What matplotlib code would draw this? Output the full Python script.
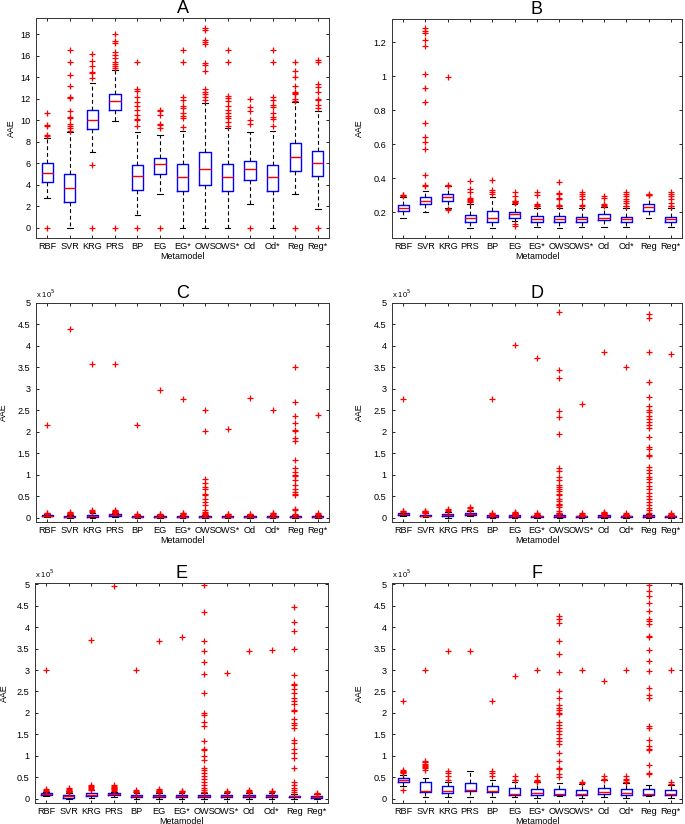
import matplotlib
matplotlib.use("Agg")
import matplotlib.pyplot as plt
from matplotlib.ticker import FuncFormatter, MultipleLocator

plt.rcParams['font.family'] = ['Liberation Sans', 'DejaVu Sans']

categories = ['RBF', 'SVR', 'KRG', 'PRS', 'BP', 'EG', 'EG*', 'OWS', 'OWS*', 'Od', 'Od*', 'Reg', 'Reg*']

# ---------------- Panel A ----------------
A_q1 = [4.3, 2.4, 9.2, 11.0, 3.5, 5.05, 3.45, 3.95, 3.45, 4.45, 3.45, 5.3, 4.8]
A_med = [5.15, 3.7, 10.05, 11.8, 4.8, 5.95, 4.75, 5.45, 4.75, 5.5, 4.75, 6.6, 6.05]
A_q3 = [6.0, 5.05, 11.0, 12.45, 5.85, 6.5, 5.9, 7.05, 5.9, 6.25, 5.85, 7.85, 7.15]
A_wlo = [2.8, 0.0, 7.1, 9.9, 1.25, 3.2, 0.0, 0.0, 0.0, 2.2, 0.0, 3.2, 1.8]
A_whi = [8.4, 8.9, 13.5, 14.7, 8.9, 8.6, 9.0, 11.6, 9.25, 8.95, 9.0, 11.7, 10.85]
A_fliers = [
    [10.7, 9.6, 9.45, 8.6, 8.5, 0.0],
    [16.55, 15.4, 14.2, 13.2, 12.2, 12.1, 10.9, 10.3, 10.2, 9.7, 9.5, 9.25, 9.05],
    [16.2, 15.5, 15.0, 14.5, 14.4, 13.9, 5.85, 0.0],
    [18.0, 17.4, 17.2, 16.3, 16.1, 15.8, 15.45, 15.2, 15.05, 14.9, 0.0],
    [15.4, 12.9, 12.75, 12.2, 11.7, 11.3, 10.95, 10.5, 10.1, 10.0, 9.45, 0.0],
    [11.0, 10.85, 10.5, 9.7, 9.55, 9.3, 0.0],
    [16.55, 15.4, 12.2, 11.9, 11.3, 11.1, 10.65, 10.4, 10.2, 9.4],
    [18.55, 18.4, 17.5, 17.25, 17.1, 15.3, 15.15, 14.6, 12.9, 12.65, 12.45, 12.2, 11.9],
    [16.55, 15.4, 12.25, 12.05, 11.75, 11.3, 11.0, 10.65, 10.4, 10.2, 9.8, 9.45],
    [11.95, 11.2, 10.85, 10.0, 9.7, 0.0],
    [16.55, 15.4, 12.2, 11.9, 11.4, 11.2, 10.65, 10.35, 10.1, 9.45],
    [15.4, 14.6, 14.05, 13.2, 12.65, 12.55, 12.4, 11.95, 11.75, 0.0],
    [15.6, 15.4, 13.35, 13.1, 12.6, 12.0, 11.9, 11.4, 11.1, 0.0],
]

# ---------------- Panel B ----------------
B_q1 = [0.21, 0.249, 0.269, 0.141, 0.141, 0.17, 0.145, 0.145, 0.141, 0.155, 0.141, 0.21, 0.141]
B_med = [0.226, 0.269, 0.288, 0.165, 0.167, 0.19, 0.161, 0.161, 0.159, 0.17, 0.159, 0.229, 0.159]
B_q3 = [0.243, 0.288, 0.308, 0.184, 0.21, 0.204, 0.18, 0.18, 0.176, 0.19, 0.176, 0.247, 0.176]
B_wlo = [0.167, 0.2, 0.225, 0.108, 0.108, 0.147, 0.112, 0.108, 0.112, 0.112, 0.112, 0.167, 0.112]
B_whi = [0.29, 0.325, 0.355, 0.25, 0.292, 0.25, 0.225, 0.225, 0.225, 0.23, 0.225, 0.3, 0.225]
B_fliers = [
    [0.295, 0.3, 0.305],
    [1.283, 1.263, 1.253, 1.214, 1.174, 1.013, 0.929, 0.846, 0.727, 0.644, 0.615, 0.571, 0.418, 0.359, 0.353],
    [0.994, 0.361, 0.355, 0.218, 0.214],
    [0.387, 0.338, 0.318, 0.285, 0.28, 0.275, 0.27, 0.26],
    [0.39, 0.33, 0.318, 0.308],
    [0.318, 0.298, 0.27, 0.265, 0.26, 0.255, 0.135, 0.122],
    [0.318, 0.3, 0.25, 0.245, 0.24, 0.235],
    [0.38, 0.315, 0.308, 0.285, 0.28, 0.245, 0.24, 0.235],
    [0.318, 0.308, 0.298, 0.28, 0.245, 0.24],
    [0.298, 0.285, 0.25, 0.245, 0.24],
    [0.318, 0.308, 0.294, 0.28, 0.27, 0.253, 0.24, 0.235],
    [0.31, 0.305, 0.3],
    [0.318, 0.308, 0.294, 0.28, 0.253, 0.24, 0.235],
]

# ---------------- Panel C (x 1e5) ----------------
C_q1 = [0.03, 0.005, 0.01, 0.045, 0.005, 0.005, 0.005, 0.005, 0.005, 0.005, 0.005, 0.005, 0.005]
C_med = [0.045, 0.025, 0.04, 0.065, 0.02, 0.02, 0.02, 0.02, 0.02, 0.02, 0.02, 0.02, 0.02]
C_q3 = [0.06, 0.045, 0.07, 0.085, 0.035, 0.035, 0.035, 0.035, 0.035, 0.035, 0.035, 0.035, 0.035]
C_wlo = [0.01, 0.0, 0.0, 0.02, 0.0, 0.0, 0.0, 0.0, 0.0, 0.0, 0.0, 0.0, 0.0]
C_whi = [0.08, 0.07, 0.12, 0.11, 0.06, 0.06, 0.06, 0.06, 0.06, 0.06, 0.06, 0.06, 0.06]
C_fliers = [
    [0.09, 0.1, 0.11, 2.17],
    [0.08, 0.09, 0.1, 0.11, 0.13, 4.4],
    [0.14, 0.16, 0.18, 3.57],
    [0.12, 0.13, 0.14, 0.15, 0.16, 0.18, 3.57],
    [0.07, 0.08, 0.09, 2.17],
    [0.065, 0.075, 0.085, 2.97],
    [0.07, 0.08, 0.1, 0.12, 2.76],
    [0.07, 0.09, 0.11, 0.13, 0.17, 0.3, 0.37, 0.44, 0.52, 0.56, 0.68, 0.72, 0.8, 0.9, 2.03, 2.5],
    [0.07, 0.08, 0.09, 2.06],
    [0.065, 0.075, 0.085, 2.79],
    [0.07, 0.08, 0.1, 0.12, 2.5],
    [0.07, 0.09, 0.19, 0.21, 0.52, 0.56, 0.6, 0.68, 0.77, 0.87, 0.97, 1.0, 1.07, 1.16, 1.34,
     1.78, 1.86, 2.02, 2.04, 2.2, 2.37, 2.69, 3.5],
    [0.07, 0.08, 0.1, 2.39],
]

# ---------------- Panel D (x 1e5) ----------------
D_q1 = [0.07, 0.03, 0.035, 0.07, 0.02, 0.02, 0.015, 0.02, 0.015, 0.02, 0.015, 0.02, 0.015]
D_med = [0.085, 0.05, 0.06, 0.09, 0.04, 0.04, 0.035, 0.04, 0.035, 0.04, 0.035, 0.04, 0.035]
D_q3 = [0.1, 0.07, 0.08, 0.12, 0.055, 0.055, 0.05, 0.06, 0.05, 0.055, 0.05, 0.06, 0.05]
D_wlo = [0.04, 0.01, 0.0, 0.03, 0.0, 0.0, 0.0, 0.0, 0.0, 0.0, 0.0, 0.0, 0.0]
D_whi = [0.12, 0.1, 0.13, 0.15, 0.065, 0.065, 0.065, 0.075, 0.065, 0.065, 0.065, 0.075, 0.065]
D_fliers = [
    [0.13, 0.15, 0.16, 2.77],
    [0.11, 0.12, 0.13, 0.14, 0.15, 0.16],
    [0.16, 0.19, 0.21],
    [0.17, 0.19, 0.22, 0.25],
    [0.07, 0.08, 0.1, 0.12, 2.77],
    [0.07, 0.08, 0.09, 0.1, 0.11, 0.12, 0.13, 4.02],
    [0.07, 0.09, 0.11, 0.12, 3.71],
    [0.08, 0.1, 0.12, 0.15, 0.25, 0.29, 0.3, 0.33, 0.38, 0.44, 0.52, 0.55, 0.62, 0.68, 0.72, 0.77,
     0.87, 0.95, 1.08, 1.16, 1.95, 2.34, 2.48, 3.25, 3.43, 4.8],
    [0.07, 0.08, 0.1, 2.64],
    [0.07, 0.08, 0.09, 0.1, 0.11, 0.12, 0.13, 3.85],
    [0.07, 0.09, 0.11, 3.5],
    [0.07, 0.12, 0.17, 0.23, 0.3, 0.37, 0.43, 0.51, 0.58, 0.68, 0.74, 0.82, 0.9, 0.95, 1.03, 1.12,
     1.18, 1.43, 1.47, 1.6, 1.65, 1.87, 2.08, 2.16, 2.24, 2.29, 2.38, 2.47, 2.51, 2.59, 2.82, 3.17,
     3.87, 4.66, 4.74],
    [0.06, 0.08, 0.1, 3.82],
]

# ---------------- Panel E (x 1e5) ----------------
E_q1 = [0.094, 0.025, 0.055, 0.08, 0.03, 0.04, 0.03, 0.03, 0.03, 0.04, 0.03, 0.04, 0.025]
E_med = [0.117, 0.055, 0.094, 0.11, 0.055, 0.07, 0.055, 0.055, 0.055, 0.07, 0.055, 0.055, 0.045]
E_q3 = [0.14, 0.094, 0.13, 0.14, 0.094, 0.094, 0.08, 0.086, 0.086, 0.094, 0.08, 0.07, 0.06]
E_wlo = [0.06, 0.0, 0.015, 0.05, 0.0, 0.0, 0.0, 0.0, 0.0, 0.0, 0.0, 0.0, 0.0]
E_whi = [0.16, 0.14, 0.2, 0.16, 0.14, 0.14, 0.14, 0.14, 0.14, 0.14, 0.14, 0.12, 0.1]
E_fliers = [
    [0.17, 0.19, 0.21, 0.23, 3.01],
    [0.15, 0.16, 0.17, 0.18, 0.19, 0.2, 0.22, 0.25],
    [0.21, 0.23, 0.25, 0.27, 0.29, 0.32, 3.7],
    [0.18, 0.2, 0.22, 0.24, 0.26, 0.28, 0.3, 0.32, 4.97],
    [0.15, 0.16, 0.18, 0.2, 3.01],
    [0.15, 0.16, 0.17, 0.18, 0.2, 0.22, 3.68],
    [0.15, 0.17, 0.19, 3.78],
    [0.15, 0.16, 0.2, 0.26, 0.33, 0.4, 0.45, 0.53, 0.59, 0.68, 0.72, 0.9, 1.0, 1.13, 1.17, 1.35,
     1.7, 1.79, 1.95, 2.0, 2.47, 2.9, 3.19, 3.44, 3.68, 4.35, 4.99],
    [0.15, 0.16, 0.18, 2.94],
    [0.15, 0.16, 0.18, 0.2, 3.45],
    [0.15, 0.17, 0.19, 3.46],
    [0.15, 0.2, 0.26, 0.33, 0.4, 0.72, 0.96, 1.06, 1.17, 1.31, 1.38, 1.66, 1.71, 1.77, 1.85, 2.05,
     2.08, 2.22, 2.28, 2.36, 2.46, 2.55, 2.64, 2.68, 2.88, 3.48, 3.9, 4.11, 4.47],
    [0.11, 0.12, 0.14],
]

# ---------------- Panel F (x 1e5) ----------------
F_q1 = [0.38, 0.155, 0.13, 0.17, 0.15, 0.093, 0.093, 0.078, 0.078, 0.11, 0.093, 0.078, 0.085]
F_med = [0.435, 0.17, 0.18, 0.195, 0.19, 0.117, 0.13, 0.11, 0.11, 0.15, 0.13, 0.1, 0.11]
F_q3 = [0.48, 0.39, 0.29, 0.37, 0.29, 0.25, 0.225, 0.225, 0.195, 0.25, 0.225, 0.225, 0.21]
F_wlo = [0.3, 0.04, 0.05, 0.05, 0.04, 0.03, 0.02, 0.06, 0.02, 0.03, 0.02, 0.06, 0.02]
F_whi = [0.56, 0.48, 0.39, 0.64, 0.43, 0.4, 0.38, 0.37, 0.35, 0.43, 0.37, 0.33, 0.33]
F_fliers = [
    [0.21, 0.6, 0.62, 0.63, 0.65, 0.66, 2.27],
    [0.66, 0.72, 0.74, 0.77, 0.79, 0.82, 0.85, 0.89, 3.0],
    [0.44, 0.52, 0.6, 0.65, 3.44],
    [3.44],
    [0.52, 0.6, 0.64, 2.27],
    [0.43, 0.44, 0.52, 2.86],
    [0.4, 0.42, 0.44, 0.54, 3.0],
    [0.51, 0.57, 0.7, 0.72, 0.88, 1.07, 1.27, 1.35, 1.41, 1.5, 1.59, 1.66, 1.73, 1.79, 1.97, 2.0,
     2.07, 2.12, 2.18, 2.36, 2.51, 2.95, 3.37, 3.68, 4.1, 4.2, 4.25],
    [0.37, 0.4, 3.0],
    [0.43, 0.46, 0.52, 2.74],
    [0.38, 0.4, 0.43, 0.47, 0.52, 3.0],
    [0.58, 0.61, 0.78, 1.13, 1.17, 1.23, 1.38, 1.66, 1.7, 2.36, 2.43, 2.57, 2.98, 3.2, 3.46, 3.76,
     3.79, 4.07, 4.14, 4.18, 4.38, 4.57, 4.73, 4.84, 4.98],
    [0.35, 0.38, 3.0],
]

panels = [
    ('A', A_q1, A_med, A_q3, A_wlo, A_whi, A_fliers),
    ('B', B_q1, B_med, B_q3, B_wlo, B_whi, B_fliers),
    ('C', C_q1, C_med, C_q3, C_wlo, C_whi, C_fliers),
    ('D', D_q1, D_med, D_q3, D_wlo, D_whi, D_fliers),
    ('E', E_q1, E_med, E_q3, E_wlo, E_whi, E_fliers),
    ('F', F_q1, F_med, F_q3, F_wlo, F_whi, F_fliers),
]

W, H = 685, 824
# axes rectangles in pixels: left, top, right, bottom
rects = {
    'A': (36, 18, 329, 238),
    'B': (392, 19, 682, 238),
    'C': (36, 303, 329, 522),
    'D': (392, 303, 682, 522),
    'E': (35, 583, 328, 803),
    'F': (392, 583, 682, 803),
}
ylims = {
    'A': (-0.93, 19.5),
    'B': (0.05, 1.335),
    'C': (-0.1, 5.0),
    'D': (-0.1, 5.0),
    'E': (-0.1, 5.03),
    'F': (-0.1, 5.03),
}
ysteps = {'A': 2, 'B': 0.2, 'C': 0.5, 'D': 0.5, 'E': 0.5, 'F': 0.5}
ylabel_x = {'A': -0.07, 'B': -0.095, 'C': -0.097, 'D': -0.095, 'E': -0.09, 'F': -0.095}

fig = plt.figure(figsize=(W / 100, H / 100), dpi=100)

for name, q1, med, q3, wlo, whi, fl in panels:
    l, t, r, b = rects[name]
    ax = fig.add_axes([l / W, 1 - b / H, (r - l) / W, (b - t) / H])
    stats = []
    for i in range(len(categories)):
        stats.append(dict(q1=q1[i], med=med[i], q3=q3[i], whislo=wlo[i], whishi=whi[i],
                          fliers=fl[i], label=categories[i]))
    ax.bxp(stats, positions=list(range(1, len(categories) + 1)), widths=0.5, capwidths=0.25,
           showfliers=True,
           boxprops=dict(color='#0000ff', linewidth=1.0),
           medianprops=dict(color='#ff0000', linewidth=1.0),
           whiskerprops=dict(color='black', linewidth=0.8, linestyle=(0, (3.5, 2.5))),
           capprops=dict(color='black', linewidth=0.8),
           flierprops=dict(marker='+', markeredgecolor='#ff0000', markersize=5,
                           markeredgewidth=0.9, linestyle='none'))
    ax.set_xlim(0.5, len(categories) + 0.5)
    ax.set_ylim(*ylims[name])
    ax.yaxis.set_major_locator(MultipleLocator(ysteps[name]))
    ax.yaxis.set_major_formatter(FuncFormatter(lambda v, p: ('%g' % round(v, 6))))
    ax.tick_params(direction='in', top=True, right=True, length=2.5, width=0.6,
                   labelsize=6.6, pad=3)
    ax.tick_params(axis='y', pad=4)
    for sp in ax.spines.values():
        sp.set_linewidth(0.7)
        sp.set_color('#333333')
    ax.set_title(name, fontsize=13, pad=3.5)
    ax.set_xlabel('Metamodel', fontsize=6.4)
    ax.xaxis.set_label_coords(0.5, -0.062)
    ax.set_ylabel('AAE', fontsize=6.4)
    ax.yaxis.set_label_coords(ylabel_x[name], 0.5)
    if name in ('C', 'D', 'E', 'F'):
        ax.text(0.0, 1.012, r'x 10$^5$', transform=ax.transAxes, ha='left', va='bottom',
                fontsize=5.5)

fig.savefig('out.png', dpi=100)
